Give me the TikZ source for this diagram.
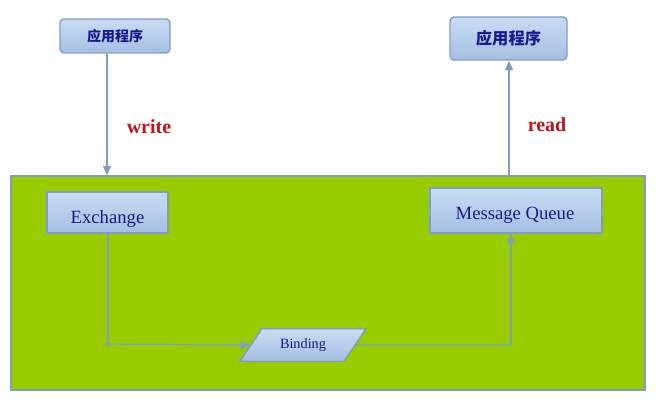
\documentclass[tikz,border=0pt]{standalone}
\usepackage{fontspec}
\setmainfont{Liberation Serif}
\newfontfamily\cjk{Noto Sans CJK SC}
\usetikzlibrary{shapes.geometric,arrows.meta}
\definecolor{boxtop}{HTML}{C9DCF2}
\definecolor{boxbot}{HTML}{A4BFE2}
\definecolor{edge}{HTML}{7F9DC4}
\definecolor{navy}{HTML}{1A1A8E}
\definecolor{grn}{HTML}{99CC00}
\definecolor{lbl}{HTML}{C0141C}
\tikzset{
  bluebox/.style={draw=edge, line width=1pt, top color=boxtop, bottom color=boxbot, text=navy, inner sep=0pt},
  appbox/.style={bluebox, rounded corners=3pt},
  txt/.style={text=navy, inner sep=0pt},
  conn/.style={draw=edge, line width=1pt, -{Triangle[length=7pt,width=6pt]}},
  seg/.style={draw=edge, line width=1pt},
  lab/.style={text=lbl, font=\bfseries\fontsize{15}{17}\selectfont}
}
\begin{document}
\begin{tikzpicture}[x=0.75pt,y=-0.75pt]
\useasboundingbox (0,0) rectangle (656,406);
\fill[white] (0,0) rectangle (656,406);
\node[appbox, minimum width=110*0.75pt, minimum height=34*0.75pt, font=\cjk\bfseries\fontsize{10.5}{12}\selectfont] (app1) at (115,36) {应用程序};
\node[appbox, minimum width=117*0.75pt, minimum height=43*0.75pt, font=\cjk\bfseries\fontsize{12.2}{14}\selectfont] (app2) at (508.5,38.5) {应用程序};
\node[draw=edge, line width=1.2pt, fill=grn, minimum width=634*0.75pt, minimum height=214*0.75pt, inner sep=0pt] (bus) at (328,283) {};
\node[bluebox, minimum width=121*0.75pt, minimum height=41*0.75pt] (ex) at (107.5,212.5) {};
\node[txt, font=\fontsize{14}{16}\selectfont] (ext) at (107.5,219) {Exchange};
\node[bluebox, minimum width=172*0.75pt, minimum height=45*0.75pt] (mq) at (516,210.5) {};
\node[txt, font=\fontsize{14}{16}\selectfont] (mqt) at (515,215) {Message Queue};
\node[bluebox, trapezium, trapezium stretches body=true, trapezium left angle=56, trapezium right angle=124, inner xsep=0pt, inner ysep=7.3pt, minimum width=126*0.75pt, font=\fontsize{10.7}{12}\selectfont] (bd) at (303,345) {\raisebox{-2.2pt}{Binding}};
\coordinate (c1) at (108,344);
\coordinate (c2) at (511,345);
\draw[conn] (app1.south -| 107,0) -- (bus.north -| 107,0);
\draw[conn] (bus.north -| 509,0) -- (app2.south -| 509,0);
\node[lab] (w) at (149,127) {write};
\node[lab] (r) at (547,125) {read};
\draw[seg] (ex.south -| 108,0) -- (c1);
\fill[edge] (c1) circle (2);
\draw[conn] (c1) -- (bd.west);
\draw[seg] (bd.east) -- (c2);
\draw[conn] (c2) -- (mq.south -| 511,0);
\end{tikzpicture}
\end{document}
